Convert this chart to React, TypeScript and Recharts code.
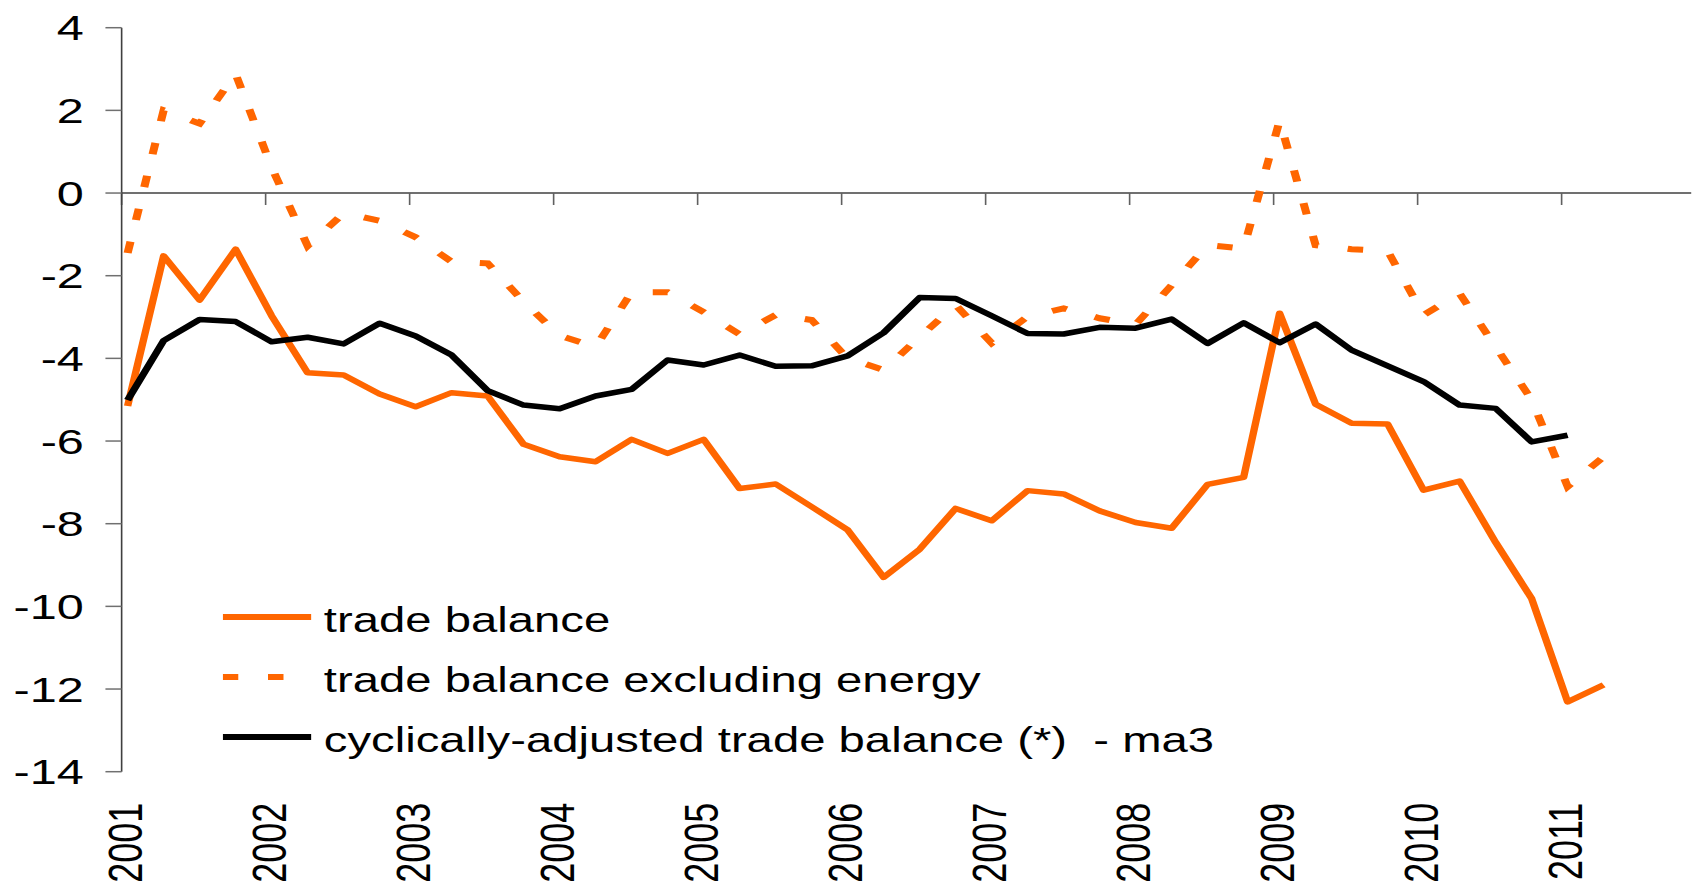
import { Legend, Line, LineChart, ReferenceLine, XAxis, YAxis } from "recharts";

// the source picture is stretched sideways, so the chart is drawn narrow and scaled
const STRETCH = 1.35;
const CHART_W = 1700 / STRETCH;
const CHART_H = 884;

const ORANGE = "#ff6600";
const FONT = '"Liberation Sans", Arial, sans-serif';

const YEARS = ["2001", "2002", "2003", "2004", "2005", "2006", "2007", "2008", "2009", "2010", "2011"];
const Y_TICKS = [4, 2, 0, -2, -4, -6, -8, -10, -12, -14];

// quarterly, 2001Q1 .. 2011Q2
const TRADE_BALANCE = [
  -5.15, -1.52, -2.59, -1.36, -2.97, -4.35, -4.4, -4.86, -5.17, -4.83, -4.91, -6.08,
  -6.38, -6.5, -5.96, -6.3, -5.96, -7.15, -7.04, -7.59, -8.15, -9.3, -8.62, -7.63,
  -7.93, -7.2, -7.28, -7.69, -7.97, -8.11, -7.05, -6.88, -2.91, -5.11, -5.57, -5.59,
  -7.19, -6.97, -8.45, -9.81, -12.31, -11.9,
];
const EXCL_ENERGY = [
  -1.45, 2.0, 1.68, 2.88, 0.62, -1.28, -0.49, -0.67, -1.07, -1.66, -1.7, -2.63,
  -3.45, -3.72, -2.4, -2.4, -2.88, -3.42, -2.95, -3.07, -4.0, -4.28, -3.48, -2.71,
  -3.63, -2.99, -2.79, -3.03, -3.18, -2.23, -1.26, -1.34, 1.75, -1.26, -1.36, -1.4,
  -2.95, -2.43, -3.72, -5.0, -7.1, -6.38,
];
const CYCL_ADJ = [
  -5.01, -3.57, -3.06, -3.11, -3.6, -3.49, -3.65, -3.15, -3.46, -3.92, -4.78, -5.13,
  -5.22, -4.91, -4.75, -4.04, -4.16, -3.92, -4.19, -4.18, -3.94, -3.38, -2.53, -2.55,
  -2.97, -3.4, -3.41, -3.25, -3.27, -3.05, -3.64, -3.14, -3.62, -3.17, -3.8, -4.18,
  -4.56, -5.13, -5.21, -6.02, -5.86,
];

const QUARTERS = YEARS.flatMap((y) => ["Q1", "Q2", "Q3", "Q4"].map((q) => y + q)).slice(0, TRADE_BALANCE.length);

// date axis: each point sits half a month into its quarter
const data = QUARTERS.map((q, i) => ({
  q,
  t: i + 1 / 6,
  tb: TRADE_BALANCE[i],
  ex: EXCL_ENERGY[i],
  ca: CYCL_ADJ[i],
}));

const YEAR_TICKS = YEARS.map((_, i) => i * 4);

const SERIES = [
  { name: "trade balance", color: ORANGE, dash: undefined },
  { name: "trade balance excluding energy", color: ORANGE, dash: "11.5 22" },
  { name: "cyclically-adjusted trade balance (*)  - ma3", color: "#000", dash: undefined },
];

function YearTick({ x, y, payload }: any) {
  return (
    <text
      x={0}
      y={0}
      dy={15}
      transform={`translate(${x},${y}) rotate(-90)`}
      textAnchor="end"
      fontSize={36}
      fill="#000"
    >
      {YEARS[Math.round(payload.value / 4)]}
    </text>
  );
}

function ChartLegend() {
  return (
    <div style={{ fontSize: 35, color: "#000", fontFamily: FONT }}>
      {SERIES.map((s) => (
        <div key={s.name} style={{ display: "flex", alignItems: "center", height: 60, whiteSpace: "pre" }}>
          <svg width={65.5} height={12} style={{ display: "block" }}>
            <line x1={0} x2={65.5} y1={6} y2={6} stroke={s.color} strokeWidth={6} strokeDasharray={s.dash} />
          </svg>
          <span style={{ marginLeft: 9, lineHeight: "60px", position: "relative", top: 3 }}>{s.name}</span>
        </div>
      ))}
    </div>
  );
}

export default function App() {
  return (
    <div
      style={{
        position: "absolute",
        left: 0,
        top: 0,
        width: CHART_W,
        height: CHART_H,
        transform: `scaleX(${STRETCH})`,
        transformOrigin: "0 0",
        fontFamily: FONT,
        background: "#fff",
      }}
    >
      <LineChart
        width={CHART_W}
        height={CHART_H}
        data={data}
        margin={{ top: 27.7, right: 6.5, bottom: 0, left: 0 }}
        style={{ fontFamily: FONT }}
      >
        <XAxis
          dataKey="t"
          type="number"
          domain={[0, 43.6]}
          ticks={YEAR_TICKS}
          interval={0}
          height={112.3}
          axisLine={false}
          tickLine={false}
          tickSize={0}
          tickMargin={31}
          tick={<YearTick />}
        />
        <YAxis
          type="number"
          domain={[-14, 4]}
          ticks={Y_TICKS}
          interval={0}
          width={90.1}
          axisLine={{ stroke: "#404040", strokeWidth: 1.2 }}
          tickLine={{ stroke: "#707070", strokeWidth: 1.5 }}
          tickSize={12}
          tickMargin={16}
          tick={{ fill: "#000", fontSize: 36 }}
        />
        <ReferenceLine y={0} stroke="#404040" strokeWidth={1.6} />
        {YEAR_TICKS.map((t) => (
          <ReferenceLine
            key={t}
            segment={[
              { x: t, y: 0 },
              { x: t, y: -0.29 },
            ]}
            stroke="#606060"
            strokeWidth={1.2}
          />
        ))}
        <Line
          dataKey="tb"
          name={SERIES[0].name}
          stroke={ORANGE}
          strokeWidth={5.5}
          strokeLinejoin="round"
          dot={false}
          activeDot={false}
          isAnimationActive={false}
        />
        <Line
          dataKey="ex"
          name={SERIES[1].name}
          stroke={ORANGE}
          strokeWidth={6}
          strokeDasharray="11.5 22"
          dot={false}
          activeDot={false}
          isAnimationActive={false}
        />
        <Line
          dataKey="ca"
          name={SERIES[2].name}
          stroke="#000"
          strokeWidth={5.5}
          strokeLinejoin="round"
          dot={false}
          activeDot={false}
          isAnimationActive={false}
        />
        <Legend
          layout="vertical"
          verticalAlign="middle"
          align="center"
          content={<ChartLegend />}
          wrapperStyle={{ left: 165.4, top: 586.7, width: "auto", height: "auto" }}
        />
      </LineChart>
    </div>
  );
}
